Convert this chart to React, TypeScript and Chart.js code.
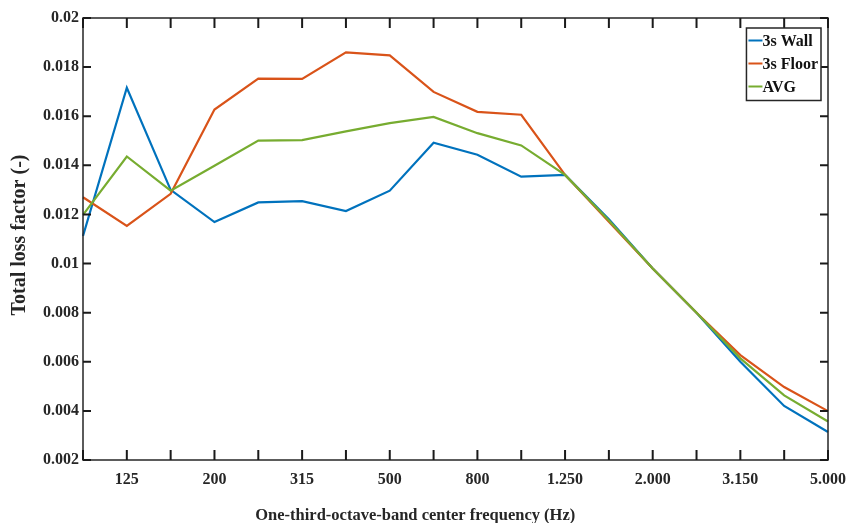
import React, { useEffect, useRef } from "react";
import { Chart, registerables } from "chart.js";

Chart.register(...registerables);

const freqs = ["100", "125", "160", "200", "250", "315", "400", "500", "630", "800", "1000", "1250", "1600", "2000", "2500", "3150", "4000", "5000"];
const xTickLabels = ["", "125", "", "200", "", "315", "", "500", "", "800", "", "1.250", "", "2.000", "", "3.150", "", "5.000"];
const wall = [0.01112, 0.01716, 0.0130, 0.01169, 0.01249, 0.01254, 0.01214, 0.01297, 0.01492, 0.01443, 0.01354, 0.01361, 0.0118, 0.0098, 0.0080, 0.0060, 0.0042, 0.00314];
const floorVals = [0.0127, 0.01153, 0.01284, 0.01627, 0.01753, 0.01752, 0.0186, 0.01848, 0.01699, 0.01618, 0.01606, 0.01361, 0.0117, 0.0098, 0.0080, 0.00627, 0.00497, 0.00399];
const avg = [0.01198, 0.01436, 0.01297, 0.01398, 0.01501, 0.01503, 0.01538, 0.01572, 0.01597, 0.01531, 0.01481, 0.01361, 0.01175, 0.0098, 0.0080, 0.00614, 0.00463, 0.00357];
const seriesNames = ["3s Wall", "3s Floor", "AVG"];
const seriesColors = ["#0072BD", "#D95319", "#77AC30"];
const yMin = 0.002;
const yMax = 0.02;
const yStep = 0.002;
const xTitle = "One-third-octave-band center frequency (Hz)";
const yTitle = "Total loss factor (-)";

const FONT = "'Liberation Serif', 'Times New Roman', serif";
const AXIS = "#262626";

const boxPlugin = {
  id: "matlabBox",
  afterDraw(chart: any) {
    const { ctx, chartArea: a, scales } = chart;
    const xs = scales.x;
    const ys = scales.y;
    ctx.save();
    // box
    ctx.strokeStyle = AXIS;
    ctx.lineWidth = 1.5;
    ctx.strokeRect(a.left, a.top, a.right - a.left, a.bottom - a.top);
    // ticks
    ctx.lineWidth = 2;
    ctx.strokeStyle = "#1a1a1a";
    ctx.beginPath();
    for (let i = 0; i < xs.ticks.length; i++) {
      const x = xs.getPixelForTick(i);
      ctx.moveTo(x, a.bottom);
      ctx.lineTo(x, a.bottom - 10);
      ctx.moveTo(x, a.top);
      ctx.lineTo(x, a.top + 10);
    }
    for (let i = 0; i < ys.ticks.length; i++) {
      const y = ys.getPixelForValue(ys.ticks[i].value);
      ctx.moveTo(a.left, y);
      ctx.lineTo(a.left + 8, y);
      ctx.moveTo(a.right, y);
      ctx.lineTo(a.right - 8, y);
    }
    ctx.stroke();

    // x title
    ctx.fillStyle = AXIS;
    ctx.font = "bold 16.5px " + FONT;
    ctx.textAlign = "center";
    ctx.textBaseline = "middle";
    const cx = a.left + (a.right - a.left) * 0.446;
    ctx.fillText(xTitle, cx, a.bottom + 56);

    // y title
    ctx.save();
    ctx.translate(20, (a.top + a.bottom) / 2 - 4);
    ctx.rotate(-Math.PI / 2);
    ctx.font = "bold 20px " + FONT;
    ctx.textAlign = "center";
    ctx.textBaseline = "middle";
    ctx.fillText(yTitle, 0, 0);
    ctx.restore();

    // legend
    ctx.font = "bold 16px " + FONT;
    const dsets = chart.data.datasets;
    let maxW = 0;
    dsets.forEach((d: any) => {
      maxW = Math.max(maxW, ctx.measureText(d.label).width);
    });
    const lineLen = 14;
    const boxW = 2 + lineLen + maxW + 3;
    const rowH = 23;
    const boxH = 72.5;
    const bx = a.right - 7 - boxW;
    const by = a.top + 10;
    ctx.fillStyle = "#ffffff";
    ctx.fillRect(bx, by, boxW, boxH);
    ctx.strokeStyle = AXIS;
    ctx.lineWidth = 1.5;
    ctx.strokeRect(bx, by, boxW, boxH);
    dsets.forEach((d: any, i: number) => {
      const y = by + 12.5 + i * rowH;
      ctx.strokeStyle = d.borderColor;
      ctx.lineWidth = 2;
      ctx.beginPath();
      ctx.moveTo(bx + 2, y);
      ctx.lineTo(bx + 2 + lineLen, y);
      ctx.stroke();
      ctx.fillStyle = "#111";
      ctx.textAlign = "left";
      ctx.textBaseline = "middle";
      ctx.fillText(d.label, bx + 2 + lineLen, y + 1);
    });
    ctx.restore();
  },
};

export default function App() {
  const ref = useRef<HTMLCanvasElement | null>(null);
  useEffect(() => {
    if (!ref.current) return;
    const values = [wall, floorVals, avg];
    const chart = new Chart(ref.current, {
      type: "line",
      data: {
        labels: freqs,
        datasets: values.map((v, i) => ({
          label: seriesNames[i],
          data: v,
          borderColor: seriesColors[i],
          backgroundColor: seriesColors[i],
          borderWidth: 2.2,
          pointRadius: 0,
          tension: 0,
          fill: false,
          order: 2 - i,
        })),
      },
      options: {
        animation: false,
        responsive: false,
        maintainAspectRatio: false,
        layout: { padding: { left: 0, right: 19, top: 18, bottom: 0 } },
        plugins: {
          legend: { display: false },
          tooltip: { enabled: false },
        },
        scales: {
          x: {
            type: "category",
            offset: false,
            grid: { display: false, drawTicks: false },
            border: { display: false },
            ticks: {
              autoSkip: false,
              maxRotation: 0,
              padding: 10,
              color: AXIS,
              font: { family: FONT, size: 16, weight: "bold" },
              callback: (_v: any, i: number) => xTickLabels[i],
            },
            afterFit: (s: any) => {
              s.height = 63;
              s.paddingLeft = 0;
              s.paddingRight = 0;
            },
          },
          y: {
            min: yMin,
            max: yMax,
            grid: { display: false, drawTicks: false },
            border: { display: false },
            ticks: {
              stepSize: yStep,
              padding: 4,
              color: AXIS,
              font: { family: FONT, size: 16, weight: "bold" },
              callback: (v: any) => String(Number(Number(v).toFixed(3))),
            },
            afterFit: (s: any) => {
              s.width = 83;
              s.paddingTop = 0;
              s.paddingBottom = 0;
            },
          },
        },
      },
      plugins: [boxPlugin],
    });
    return () => chart.destroy();
  }, []);
  return (
    <div style={{ position: "fixed", left: 0, top: 0, width: 847, height: 523, background: "#fff" }}>
      <canvas ref={ref} width={847} height={523} style={{ width: 847, height: 523, display: "block" }} />
    </div>
  );
}
